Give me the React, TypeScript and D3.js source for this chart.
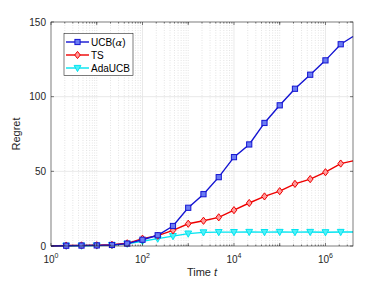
import React, { useEffect, useRef } from 'react';
import * as d3 from 'd3';

// time steps at 10^(k/3), plus the start and the end of the run
const times = [1, 2.15, 4.64, 10, 21.5, 46.4, 100, 215, 464, 1000, 2154, 4642, 10000, 21544, 46416,
  100000, 215443, 464159, 1000000, 2154435, 4000000];
const ucbRegret = [0, 0.2, 0.3, 0.4, 0.7, 1.6, 4.2, 7.2, 13.4, 25.6, 34.7, 46.1, 59.5, 68.0, 82.4,
  94.2, 105.3, 114.7, 124.3, 135.1, 140.3];
const tsRegret = [0, 0.3, 0.4, 0.5, 0.8, 1.8, 4.9, 6.9, 10.5, 14.9, 16.9, 19.2, 24.0, 28.8, 33.2,
  36.7, 41.6, 44.8, 49.4, 55.2, 57.0];
const adaRegret = [0, 0.2, 0.2, 0.3, 0.6, 1.5, 3.2, 4.9, 6.6, 8.3, 9.1, 9.3, 9.3, 9.4, 9.3,
  9.4, 9.3, 9.4, 9.2, 9.4, 9.4];
const seriesNames = ['UCB(α)', 'TS', 'AdaUCB'];
const xTicks = [1, 100, 10000, 1000000];
const yTicks = [0, 50, 100, 150];

const W = 390;
const H = 284;
const margin = { left: 51, right: 37, top: 22, bottom: 38 };

export default function App() {
  const ref = useRef<SVGSVGElement>(null);

  useEffect(() => {
    document.body.style.margin = '0';
    const svg = d3.select(ref.current);
    svg.selectAll('*').remove();

    const x = d3.scaleLog().domain([1, 4e6]).range([margin.left, W - margin.right]);
    const y = d3.scaleLinear().domain([0, 150]).range([H - margin.bottom, margin.top]);
    const [x0, x1] = x.range();
    const [y0, y1] = y.range();
    const font = 'Liberation Sans, Arial, sans-serif';

    svg.append('rect').attr('width', W).attr('height', H).attr('fill', '#fff');

    // minor grid (dotted) on x
    const minor: number[] = [];
    for (let e = 0; e <= 6; e++) {
      for (let m = 1; m <= 9; m++) {
        const v = m * Math.pow(10, e);
        if (v > 1 && v < 4e6 && !xTicks.includes(v)) minor.push(v);
      }
    }
    const grid = svg.append('g');
    grid.selectAll('.minor').data(minor).enter().append('line')
      .attr('x1', d => x(d)).attr('x2', d => x(d)).attr('y1', y0).attr('y2', y1)
      .attr('stroke', '#c8c8c8').attr('stroke-width', 0.5).attr('stroke-dasharray', '1,1.5');
    grid.selectAll('.major').data(xTicks.slice(1)).enter().append('line')
      .attr('x1', d => x(d)).attr('x2', d => x(d)).attr('y1', y0).attr('y2', y1)
      .attr('stroke', '#e3e3e3').attr('stroke-width', 0.8);
    grid.selectAll('.ymajor').data(yTicks.slice(1, 3)).enter().append('line')
      .attr('x1', x0).attr('x2', x1).attr('y1', d => y(d)).attr('y2', d => y(d))
      .attr('stroke', '#e3e3e3').attr('stroke-width', 0.8);

    // series
    const styles = [
      { vals: ucbRegret, color: '#1414d2', fill: '#6a7cf2', shape: 'square' },
      { vals: tsRegret, color: '#ee0000', fill: '#ff9a9a', shape: 'diamond' },
      { vals: adaRegret, color: '#00e4f0', fill: '#50f0f8', shape: 'triangle' },
    ];
    const line = d3.line<number>().x((_, i) => x(times[i])).y(d => y(d));

    const drawMarker = (g: any, cx: number, cy: number, s: any) => {
      if (s.shape === 'square') {
        g.append('rect').attr('x', cx - 2.6).attr('y', cy - 2.6).attr('width', 5.2).attr('height', 5.2)
          .attr('fill', s.fill).attr('stroke', s.color).attr('stroke-width', 1);
      } else if (s.shape === 'diamond') {
        g.append('path').attr('d', `M${cx},${cy - 3.6}L${cx + 2.8},${cy}L${cx},${cy + 3.6}L${cx - 2.8},${cy}Z`)
          .attr('fill', s.fill).attr('stroke', s.color).attr('stroke-width', 1);
      } else {
        g.append('path').attr('d', `M${cx - 3.4},${cy - 2.6}L${cx + 3.4},${cy - 2.6}L${cx},${cy + 3.6}Z`)
          .attr('fill', s.fill).attr('stroke', s.color).attr('stroke-width', 1);
      }
    };

    const plot = svg.append('g');
    // drawn in reverse so that UCB lies on top
    [...styles].reverse().forEach(s => {
      plot.append('path').attr('d', line(s.vals)).attr('fill', 'none')
        .attr('stroke', s.color).attr('stroke-width', 1.4);
      s.vals.forEach((v, i) => {
        if (i === 0 || i === times.length - 1) return;
        drawMarker(plot, x(times[i]), y(v), s);
      });
    });

    // axes box and ticks
    const axis = svg.append('g').attr('stroke', '#262626').attr('stroke-width', 0.6);
    axis.append('rect').attr('x', x0).attr('y', y1).attr('width', x1 - x0).attr('height', y0 - y1).attr('fill', 'none');
    const allX = [...xTicks, 10, 1000, 100000];
    allX.forEach(d => {
      axis.append('line').attr('x1', x(d)).attr('x2', x(d)).attr('y1', y0).attr('y2', y0 - 3);
      axis.append('line').attr('x1', x(d)).attr('x2', x(d)).attr('y1', y1).attr('y2', y1 + 3);
    });
    minor.forEach(d => {
      axis.append('line').attr('x1', x(d)).attr('x2', x(d)).attr('y1', y0).attr('y2', y0 - 1.5);
      axis.append('line').attr('x1', x(d)).attr('x2', x(d)).attr('y1', y1).attr('y2', y1 + 1.5);
    });
    yTicks.forEach(d => {
      axis.append('line').attr('x1', x0).attr('x2', x0 + 3).attr('y1', y(d)).attr('y2', y(d));
      axis.append('line').attr('x1', x1).attr('x2', x1 - 3).attr('y1', y(d)).attr('y2', y(d));
    });

    // tick labels
    yTicks.forEach(d => {
      svg.append('text').attr('x', x0 - 5).attr('y', y(d) + 3.5).attr('text-anchor', 'end')
        .attr('font-family', font).attr('font-size', 10).attr('fill', '#262626').text(d);
    });
    xTicks.forEach(d => {
      const t = svg.append('text').attr('x', x(d)).attr('y', y0 + 17).attr('text-anchor', 'middle')
        .attr('font-family', font).attr('font-size', 10).attr('fill', '#262626');
      t.append('tspan').text('10');
      t.append('tspan').attr('dy', -5).attr('font-size', 7).text(Math.round(Math.log10(d)));
    });

    // axis titles
    const xl = svg.append('text').attr('x', (x0 + x1) / 2).attr('y', H - 8).attr('text-anchor', 'middle')
      .attr('font-family', font).attr('font-size', 11).attr('fill', '#262626');
    xl.append('tspan').text('Time ');
    xl.append('tspan').attr('font-style', 'italic').text('t');
    svg.append('text').attr('transform', `translate(20,${(y0 + y1) / 2}) rotate(-90)`)
      .attr('text-anchor', 'middle').attr('font-family', font).attr('font-size', 11)
      .attr('fill', '#262626').text('Regret');

    // legend
    const lg = svg.append('g');
    lg.append('rect').attr('x', 64).attr('y', 33.5).attr('width', 69).attr('height', 42)
      .attr('fill', '#fff').attr('stroke', '#262626').attr('stroke-width', 0.6);
    styles.forEach((s, i) => {
      const ly = 42 + i * 13;
      lg.append('line').attr('x1', 66).attr('x2', 89).attr('y1', ly).attr('y2', ly)
        .attr('stroke', s.color).attr('stroke-width', 1.4);
      drawMarker(lg, 77.5, ly, s);
      const t = lg.append('text').attr('x', 91).attr('y', ly + 3.5).attr('font-family', font)
        .attr('font-size', 10).attr('fill', '#000');
      if (i === 0) {
        t.append('tspan').text('UCB(');
        t.append('tspan').attr('font-style', 'italic').attr('font-family', 'DejaVu Serif, serif').text('α');
        t.append('tspan').text(')');
      } else {
        t.text(seriesNames[i]);
      }
    });
  }, []);

  return <svg ref={ref} width={W} height={H} style={{ display: 'block' }} />;
}
